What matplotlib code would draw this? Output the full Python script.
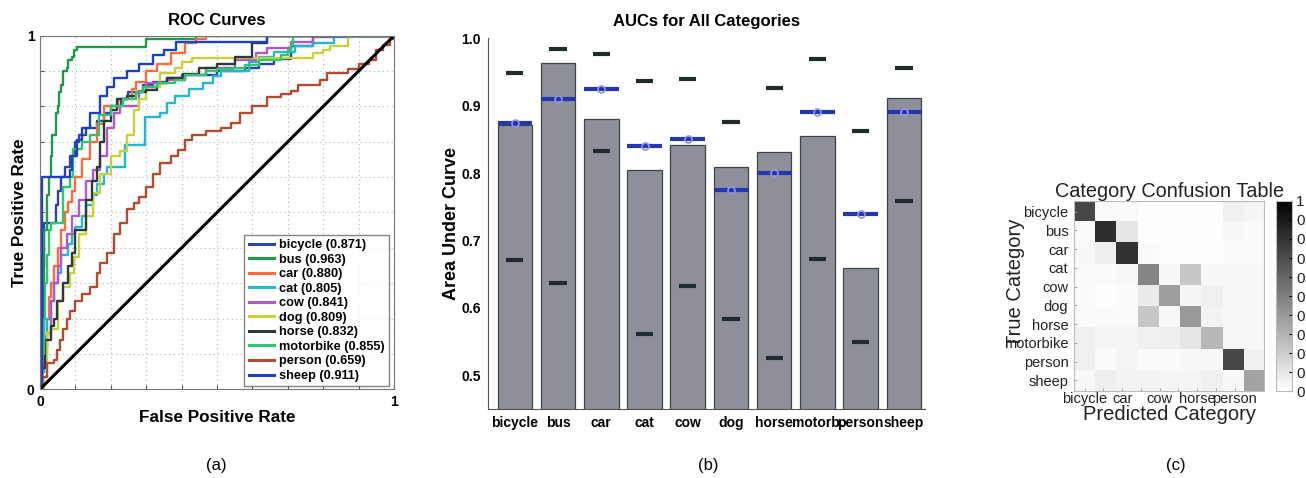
import matplotlib
matplotlib.use("Agg")
import matplotlib.pyplot as plt
import numpy as np

plt.rcParams['font.family'] = ['Liberation Sans', 'DejaVu Sans']

# ---- data ----
categories = ['bicycle', 'bus', 'car', 'cat', 'cow', 'dog', 'horse', 'motorbike', 'person', 'sheep']
bar_labels = ['bicycle', 'bus', 'car', 'cat', 'cow', 'dog', 'horse', 'motorb.', 'person', 'sheep']
auc = [0.871, 0.963, 0.880, 0.805, 0.841, 0.809, 0.832, 0.855, 0.659, 0.911]
auc_mean = [0.875, 0.910, 0.925, 0.840, 0.850, 0.775, 0.800, 0.890, 0.740, 0.890]
auc_high = [0.948, 0.984, 0.977, 0.937, 0.940, 0.876, 0.926, 0.970, 0.863, 0.956]
auc_low = [0.671, 0.637, 0.833, 0.562, 0.632, 0.584, 0.525, 0.672, 0.550, 0.758]

# ROC corner points (fpr, tpr)
roc_bicycle = [(0, 0), (0.005, 0.2), (0.008, 0.35), (0.01, 0.47), (0.045, 0.52), (0.05, 0.56),
               (0.06, 0.6), (0.07, 0.63), (0.085, 0.66), (0.1, 0.7), (0.11, 0.72), (0.13, 0.74),
               (0.16, 0.76), (0.18, 0.78), (0.2, 0.8), (0.23, 0.82), (0.25, 0.84), (0.29, 0.86),
               (0.32, 0.87), (0.36, 0.88), (0.4, 0.89), (0.5, 0.9), (0.58, 0.91), (0.62, 0.92),
               (0.66, 0.935), (0.71, 0.97), (0.77, 1.0), (1, 1.0)]
roc_bus = [(0, 0), (0, 0.3), (0.01, 0.45), (0.02, 0.55), (0.025, 0.6), (0.03, 0.66), (0.035, 0.72),
           (0.045, 0.78), (0.05, 0.8), (0.055, 0.84), (0.06, 0.86), (0.065, 0.9), (0.075, 0.91),
           (0.08, 0.93), (0.09, 0.94), (0.095, 0.96), (0.105, 0.967), (0.3, 0.99), (0.44, 1.0), (1, 1.0)]
roc_car = [(0, 0), (0.005, 0.05), (0.01, 0.12), (0.02, 0.2), (0.025, 0.26), (0.03, 0.3),
           (0.04, 0.35), (0.05, 0.4), (0.06, 0.45), (0.07, 0.5), (0.08, 0.53), (0.09, 0.56),
           (0.1, 0.6), (0.12, 0.65), (0.14, 0.7), (0.16, 0.75), (0.18, 0.8), (0.22, 0.82),
           (0.26, 0.85), (0.27, 0.87), (0.3, 0.9), (0.33, 0.92), (0.37, 0.95), (0.41, 0.98),
           (0.44, 0.99), (0.47, 1.0), (1, 1.0)]
roc_cat = [(0, 0), (0.005, 0.05), (0.01, 0.1), (0.015, 0.15), (0.02, 0.2), (0.03, 0.25), (0.04, 0.3),
           (0.05, 0.33), (0.06, 0.38), (0.08, 0.41), (0.09, 0.44), (0.1, 0.46), (0.12, 0.49),
           (0.13, 0.52), (0.15, 0.55), (0.16, 0.58), (0.18, 0.61), (0.19, 0.63), (0.24, 0.69),
           (0.27, 0.69), (0.296, 0.77), (0.34, 0.78), (0.36, 0.81), (0.38, 0.83), (0.42, 0.85),
           (0.46, 0.866), (0.49, 0.885), (0.51, 0.9), (0.59, 0.926), (0.62, 0.94), (0.66, 0.955),
           (0.72, 0.97), (0.77, 0.98), (0.83, 0.997), (0.885, 1.0), (1, 1.0)]
roc_cow = [(0, 0), (0.005, 0.06), (0.01, 0.1), (0.02, 0.16), (0.03, 0.25), (0.04, 0.3), (0.05, 0.35),
           (0.06, 0.4), (0.075, 0.44), (0.09, 0.49), (0.11, 0.535), (0.13, 0.59), (0.15, 0.62),
           (0.17, 0.66), (0.19, 0.74), (0.21, 0.78), (0.225, 0.8), (0.26, 0.8), (0.28, 0.845),
           (0.3, 0.865), (0.36, 0.875), (0.41, 0.89), (0.47, 0.91), (0.55, 0.93), (0.61, 0.95),
           (0.64, 0.965), (0.71, 0.983), (0.77, 0.997), (0.83, 1.0), (1, 1.0)]
roc_dog = [(0, 0), (0.01, 0.035), (0.02, 0.16), (0.03, 0.17), (0.05, 0.25), (0.065, 0.29),
           (0.085, 0.33), (0.095, 0.375), (0.11, 0.44), (0.13, 0.49), (0.15, 0.555), (0.17, 0.61),
           (0.2, 0.66), (0.225, 0.675), (0.245, 0.72), (0.265, 0.79), (0.28, 0.82), (0.3, 0.855),
           (0.34, 0.895), (0.38, 0.91), (0.4, 0.925), (0.43, 0.937), (0.77, 0.95), (0.8, 0.96),
           (0.82, 0.97), (0.87, 0.997), (0.88, 1.0), (1, 1.0)]
roc_horse = [(0, 0), (0.005, 0.06), (0.014, 0.14), (0.03, 0.18), (0.04, 0.2), (0.047, 0.25),
             (0.066, 0.3), (0.08, 0.35), (0.09, 0.385), (0.1, 0.45), (0.13, 0.535), (0.146, 0.59),
             (0.16, 0.63), (0.17, 0.7), (0.18, 0.76), (0.2, 0.79), (0.217, 0.82), (0.245, 0.83),
             (0.27, 0.84), (0.3, 0.846), (0.33, 0.865), (0.36, 0.88), (0.405, 0.893), (0.45, 0.91),
             (0.5, 0.92), (0.55, 0.94), (0.6, 0.98), (0.64, 1.0), (1, 1.0)]
roc_motorbike = [(0, 0), (0.005, 0.1), (0.01, 0.2), (0.015, 0.3), (0.02, 0.38), (0.025, 0.45),
                 (0.03, 0.47), (0.066, 0.573), (0.085, 0.6), (0.094, 0.68), (0.12, 0.7),
                 (0.14, 0.72), (0.168, 0.775), (0.2, 0.8), (0.235, 0.82), (0.27, 0.84),
                 (0.29, 0.856), (0.33, 0.865), (0.38, 0.875), (0.41, 0.89), (0.47, 0.9),
                 (0.5, 0.905), (0.546, 0.91), (0.58, 0.917), (0.62, 0.93), (0.68, 0.945),
                 (0.7, 0.96), (0.71, 0.975), (0.715, 1.0), (1, 1.0)]
roc_person = [(0, 0), (0.005, 0.036), (0.02, 0.074), (0.04, 0.083), (0.047, 0.11), (0.056, 0.14),
              (0.066, 0.17), (0.075, 0.2), (0.085, 0.22), (0.1, 0.25), (0.12, 0.27), (0.14, 0.29),
              (0.16, 0.33), (0.17, 0.356), (0.19, 0.385), (0.21, 0.44), (0.225, 0.47),
              (0.245, 0.51), (0.265, 0.526), (0.28, 0.545), (0.3, 0.573), (0.32, 0.61),
              (0.34, 0.64), (0.37, 0.66), (0.39, 0.677), (0.41, 0.705), (0.43, 0.72),
              (0.47, 0.73), (0.51, 0.738), (0.54, 0.752), (0.565, 0.78), (0.6, 0.8),
              (0.64, 0.828), (0.68, 0.835), (0.71, 0.845), (0.73, 0.86), (0.79, 0.875),
              (0.81, 0.895), (0.87, 0.905), (0.9, 0.92), (0.93, 0.93), (0.95, 0.96),
              (0.97, 0.975), (0.99, 0.99), (1, 1.0)]
roc_sheep = [(0, 0), (0.005, 0.6), (0.085, 0.62), (0.09, 0.66), (0.105, 0.705), (0.12, 0.74),
             (0.14, 0.78), (0.17, 0.83), (0.19, 0.855), (0.21, 0.88), (0.245, 0.9), (0.28, 0.92),
             (0.32, 0.945), (0.35, 0.96), (0.385, 0.983), (0.64, 1.0), (1, 1.0)]

roc_curves = [roc_bicycle, roc_bus, roc_car, roc_cat, roc_cow, roc_dog,
              roc_horse, roc_motorbike, roc_person, roc_sheep]
roc_colors = ['#2b43ac', '#1f9a4a', '#ff6b3f', '#22b8d2', '#b058c8', '#c9d13a',
              '#2e3a3a', '#33c46e', '#b44a30', '#2040c4']

# 9x9 confusion matrix as shown (10 labels spread over the image)
confusion = [
    [0.72, 0.02, 0.02, 0.01, 0.01, 0.01, 0.01, 0.06, 0.04],
    [0.02, 0.82, 0.10, 0.01, 0.01, 0.01, 0.01, 0.03, 0.02],
    [0.03, 0.07, 0.80, 0.02, 0.01, 0.01, 0.01, 0.02, 0.02],
    [0.02, 0.02, 0.03, 0.48, 0.03, 0.22, 0.03, 0.03, 0.03],
    [0.02, 0.01, 0.02, 0.08, 0.38, 0.04, 0.06, 0.03, 0.03],
    [0.02, 0.02, 0.02, 0.22, 0.03, 0.40, 0.05, 0.03, 0.03],
    [0.06, 0.04, 0.04, 0.06, 0.07, 0.10, 0.28, 0.03, 0.03],
    [0.06, 0.02, 0.04, 0.02, 0.02, 0.03, 0.03, 0.72, 0.06],
    [0.03, 0.07, 0.05, 0.05, 0.04, 0.04, 0.06, 0.03, 0.36],
]

fig = plt.figure(figsize=(13.06, 4.78), dpi=100)

# ---- (a) ROC curves ----
ax1 = fig.add_axes([0.0306, 0.1856, 0.2711, 0.7397])
for name, pts, col, a in zip(categories, roc_curves, roc_colors, auc):
    fpr = [p[0] for p in pts]
    tpr = [p[1] for p in pts]
    ax1.step(fpr, tpr, where='post', color=col, lw=1.7, label='%s (%.3f)' % (name, a))
ax1.plot([0, 1], [0, 1], color='black', lw=2.2)
ax1.set_xlim(0, 1)
ax1.set_ylim(0, 1)
grid_ticks = np.arange(0, 1.01, 0.1)
ax1.set_xticks(grid_ticks)
ax1.set_yticks(grid_ticks)
ax1.set_xticklabels(['0'] + [''] * 9 + ['1'])
ax1.set_yticklabels(['0'] + [''] * 9 + ['1'])
ax1.tick_params(direction='in', length=3, width=0.8, color='#555555', labelsize=10, pad=4)
for lab in ax1.get_xticklabels() + ax1.get_yticklabels():
    lab.set_fontweight('bold')
ax1.grid(True, linestyle=(0, (1, 3)), color='#9fb4c8', lw=0.8)
for sp in ax1.spines.values():
    sp.set_color('#777777')
ax1.set_title('ROC Curves', fontsize=12, fontweight='bold', pad=8)
ax1.set_xlabel('False Positive Rate', fontsize=12.3, fontweight='bold', labelpad=1)
ax1.set_ylabel('True Positive Rate', fontsize=12.3, fontweight='bold', labelpad=0)
leg = ax1.legend(loc='lower right', bbox_to_anchor=(0.987, 0.008), prop={'weight': 'bold', 'size': 9.2},
                 handlelength=2.0, handletextpad=0.4, labelspacing=0.2, borderpad=0.35,
                 borderaxespad=0.0, fancybox=False, frameon=True)
leg.get_frame().set_edgecolor('#666666')
leg.get_frame().set_linewidth(1.0)
for line in leg.get_lines():
    line.set_linewidth(2.2)

# ---- (b) AUC bars ----
ax2 = fig.add_axes([0.3737, 0.1444, 0.3346, 0.7754])
x = np.arange(1, len(bar_labels) + 1)
ax2.bar(x, auc, width=0.8, color='#8f8f99', edgecolor='#3c4646', lw=0.9, zorder=1)
ax2.hlines(auc_mean, x - 0.4, x + 0.4, color='#2436b2', lw=3, zorder=3)
ax2.plot(x, auc_mean, 'o', mfc='none', mec='#8f94e6', ms=5, mew=1.2, zorder=4)
ax2.hlines(auc_high, x - 0.2, x + 0.2, color='#1e2c2c', lw=3, zorder=3)
ax2.hlines(auc_low, x - 0.2, x + 0.2, color='#1e2c2c', lw=3, zorder=3)
ax2.set_xlim(0.38, 10.49)
ax2.set_ylim(0.45, 1.0)
ax2.set_xticks(x)
ax2.set_xticklabels(bar_labels)
ax2.set_yticks([0.5, 0.6, 0.7, 0.8, 0.9, 1.0])
ax2.set_yticklabels(['0.5', '0.6', '0.7', '0.8', '0.9', '1.0'])
ax2.tick_params(length=0, labelsize=10, pad=5)
for lab in ax2.get_xticklabels() + ax2.get_yticklabels():
    lab.set_fontweight('bold')
ax2.spines['top'].set_visible(False)
ax2.spines['right'].set_visible(False)
ax2.spines['left'].set_color('#555555')
ax2.spines['bottom'].set_color('#555555')
ax2.set_title('AUCs for All Categories', fontsize=12, fontweight='bold', pad=9)
ax2.set_ylabel('Area Under Curve', fontsize=13, fontweight='bold', labelpad=1)

# ---- (c) confusion table ----
ax3 = fig.add_axes([0.8224, 0.182, 0.1455, 0.3975])
im = ax3.imshow(np.array(confusion), cmap='gray_r', vmin=0, vmax=1,
                extent=(0.5, 9.5, 9.5, 0.5), interpolation='nearest', aspect='auto')
label_pos = np.linspace(1, 9, len(categories))
ax3.set_yticks(label_pos)
ax3.set_yticklabels(categories)
ax3.set_xticks(label_pos)
ax3.set_xticklabels([c if i % 2 == 0 else '' for i, c in enumerate(categories)])
ax3.tick_params(direction='in', length=2, width=0.6, color='#999999', labelsize=10.5,
                labelcolor='#222222')
ax3.tick_params(axis='y', pad=4)
ax3.tick_params(axis='x', pad=1)
for sp in ax3.spines.values():
    sp.set_color('#bbbbbb')
ax3.set_title('Category Confusion Table', fontsize=14.3, color='#222222', pad=3)
ax3.set_xlabel('Predicted Category', fontsize=14.5, color='#222222', labelpad=-1)
ax3.set_ylabel('True Category', fontsize=14.5, color='#222222')
ax3.yaxis.set_label_coords(-0.26, 0.57)

cax = fig.add_axes([0.977, 0.182, 0.0123, 0.3975])
cb = fig.colorbar(im, cax=cax, ticks=np.arange(0, 1.01, 0.1))
cb.ax.set_yticklabels(['0', '0.1', '0.2', '0.3', '0.4', '0.5', '0.6', '0.7', '0.8', '0.9', '1'])
cb.ax.tick_params(direction='in', length=2, labelsize=11, labelcolor='#222222', pad=3)
cb.outline.set_edgecolor('#bbbbbb')

# panel letters
fig.text(0.166, 0.027, '(a)', ha='center', va='center', fontsize=12)
fig.text(0.542, 0.027, '(b)', ha='center', va='center', fontsize=12)
fig.text(0.900, 0.027, '(c)', ha='center', va='center', fontsize=12)

fig.savefig('out.png', dpi=100)
